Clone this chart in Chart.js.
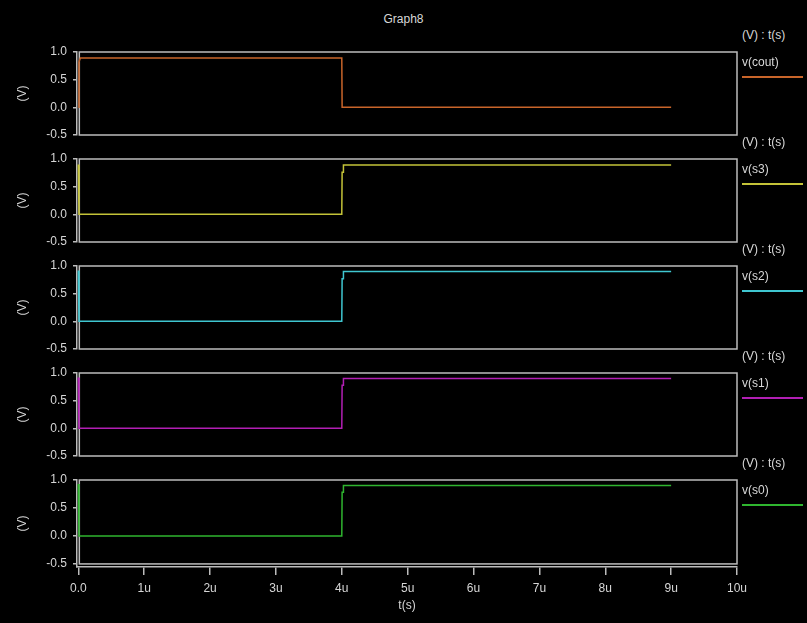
<!DOCTYPE html>
<html>
<head>
<meta charset="utf-8">
<script src="https://cdn.jsdelivr.net/npm/chart.js@4.4.1/dist/chart.umd.min.js"></script>
<style>
    html, body { margin: 0; padding: 0; background: #000; }
    #wrap { position: relative; width: 807px; height: 623px; background: #000; overflow: hidden;
            font-family: "Liberation Sans", Arial, sans-serif; color: #d8d8d8; font-size: 12px; }
    canvas { position: absolute; left: 0; }
    .txt { position: absolute; white-space: nowrap; line-height: 14px; }
    .swatch { position: absolute; height: 2px; width: 61px; }
</style>
</head>
<body>
<div id="wrap">
    <div class="txt" id="title" style="left:0;width:807px;text-align:center;top:12px;">Graph8</div>
</div>
<script>
// waveform data (time in us, value in V)
const seriesNames = ['v(cout)', 'v(s3)', 'v(s2)', 'v(s1)', 'v(s0)'];
const seriesColors = ['#c9652a', '#c4c338', '#3fc6d0', '#b21fb4', '#2fb52f'];

const coutT = [0, 0.01, 0.03, 4.0, 4.005, 9.0];
const coutV = [0, 0.82, 0.89, 0.89, 0.0, 0.0];

const s3T = [0, 0.01, 4.0, 4.005, 4.02, 4.025, 9.0];
const s3V = [0.9, 0.0, 0.0, 0.76, 0.76, 0.89, 0.89];

const s2T = [0, 0.01, 4.0, 4.005, 4.02, 4.025, 9.0];
const s2V = [0.92, 0.0, 0.0, 0.77, 0.77, 0.9, 0.9];

const s1T = [0, 0.01, 4.0, 4.005, 4.02, 4.025, 9.0];
const s1V = [0.92, 0.0, 0.0, 0.78, 0.78, 0.9, 0.9];

const s0T = [0, 0.01, 4.0, 4.005, 4.02, 4.025, 9.0];
const s0V = [0.93, 0.0, 0.0, 0.78, 0.78, 0.9, 0.9];

const seriesT = [coutT, s3T, s2T, s1T, s0T];
const seriesV = [coutV, s3V, s2V, s1V, s0V];

const yTicks = [-0.5, 0.0, 0.5, 1.0];
const xTicks = [0, 1, 2, 3, 4, 5, 6, 7, 8, 9, 10];
const xTickLabels = ['0.0', '1u', '2u', '3u', '4u', '5u', '6u', '7u', '8u', '9u', '10u'];

const wrap = document.getElementById('wrap');
const axisColor = '#bcbcbc';
const textColor = '#d6d6d6';
const font = { family: '"Liberation Sans", Arial, sans-serif', size: 12 };

const boxPlugin = {
    id: 'panelBox',
    beforeDatasetsDraw(chart) {
        const { ctx, scales: { x, y } } = chart;
        const l = x.getPixelForValue(0) + 1;
        const r = x.getPixelForValue(10);
        const t = y.getPixelForValue(1.0);
        const b = y.getPixelForValue(-0.5);
        ctx.save();
        ctx.strokeStyle = axisColor;
        ctx.lineWidth = 1.5;
        ctx.strokeRect(l, t, r - l, b - t);
        ctx.restore();
    }
};

const noPad = (s) => {
    s.paddingTop = 0;
    s.paddingBottom = 0;
    s.paddingLeft = 0;
    s.paddingRight = 0;
};

const addText = (txt, left, top) => {
    const d = document.createElement('div');
    d.className = 'txt';
    d.style.left = left + 'px';
    d.style.top = top + 'px';
    d.textContent = txt;
    wrap.appendChild(d);
};

seriesNames.forEach((name, i) => {
    const isBottom = i === seriesNames.length - 1;
    const boxTop = 52 + 107 * i;
    const canvasTop = boxTop - 8;
    const canvasH = isBottom ? 623 - canvasTop : 99;

    const canvas = document.createElement('canvas');
    canvas.width = 807;
    canvas.height = canvasH;
    canvas.style.top = canvasTop + 'px';
    wrap.appendChild(canvas);

    // legend on the right
    addText('(V) : t(s)', 742, boxTop - 24);
    addText(name, 742, boxTop + 3);
    const sw = document.createElement('div');
    sw.className = 'swatch';
    sw.style.left = '742px';
    sw.style.top = (boxTop + 24) + 'px';
    sw.style.background = seriesColors[i];
    wrap.appendChild(sw);

    const points = seriesT[i].map((t, k) => ({ x: t, y: seriesV[i][k] }));

    new Chart(canvas, {
        type: 'line',
        data: {
            datasets: [{
                data: points,
                borderColor: seriesColors[i],
                borderWidth: 1.5,
                pointRadius: 0,
                tension: 0,
                fill: false,
            }],
        },
        options: {
            responsive: false,
            animation: false,
            devicePixelRatio: 1,
            layout: { padding: { top: 8, right: 70, bottom: isBottom ? 0 : 8, left: 0 } },
            plugins: { legend: { display: false }, tooltip: { enabled: false } },
            scales: {
                x: {
                    type: 'linear',
                    display: isBottom,
                    min: -0.02,
                    max: 10,
                    afterBuildTicks: (s) => { s.ticks = xTicks.map((v) => ({ value: v })); },
                    afterFit: (s) => { noPad(s); if (isBottom) s.height = 56; },
                    grid: { drawOnChartArea: false, drawTicks: true, tickLength: 8, color: axisColor, lineWidth: 1.5 },
                    border: { display: true, color: axisColor, width: 1.5 },
                    ticks: {
                        color: textColor, font, padding: 6, maxRotation: 0,
                        callback: (v) => xTickLabels[xTicks.indexOf(v)],
                    },
                    title: { display: true, text: 't(s)', color: textColor, font, padding: { top: 0, bottom: 10 } },
                },
                y: {
                    type: 'linear',
                    min: isBottom ? -0.555 : -0.5,
                    max: 1.0,
                    afterBuildTicks: (s) => { s.ticks = yTicks.map((v) => ({ value: v })); },
                    afterFit: (s) => { noPad(s); s.width = 77; },
                    grid: { drawOnChartArea: false, drawTicks: true, tickLength: 4, color: axisColor, lineWidth: 1.5 },
                    border: { display: true, color: axisColor, width: 1.5 },
                    ticks: { color: textColor, font, padding: 6, callback: (v) => v.toFixed(1) },
                    title: { display: true, text: '(V)', color: textColor, font, padding: { top: 15, bottom: 0 } },
                },
            },
        },
        plugins: [boxPlugin],
    });
});
</script>
</body>
</html>
